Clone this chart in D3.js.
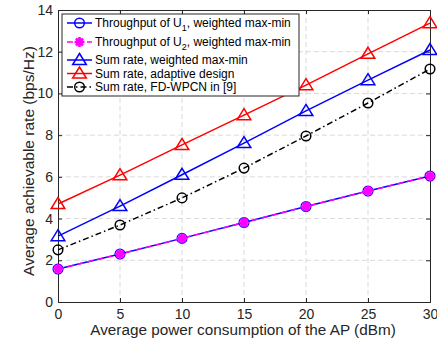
<!DOCTYPE html>
<html>
<head>
<meta charset="utf-8">
<script src="https://cdn.jsdelivr.net/npm/d3@7"></script>
<style>
  html, body { margin: 0; padding: 0; background: #fff; }
  text { font-family: "Liberation Sans", Arial, Helvetica, sans-serif; }
</style>
</head>
<body>
<svg id="chart" width="437" height="341"></svg>
<script>
// Average power consumption of the AP (dBm)
const power = [0, 5, 10, 15, 20, 25, 30];
// Rates in bps/Hz
const throughputU1 = [1.58, 2.30, 3.05, 3.81, 4.58, 5.32, 6.04];
const throughputU2 = [1.58, 2.30, 3.05, 3.81, 4.58, 5.32, 6.04];
const sumWeighted = [3.16, 4.60, 6.10, 7.62, 9.16, 10.64, 12.08];
const sumAdaptive = [4.70, 6.08, 7.53, 8.96, 10.40, 11.90, 13.37];
const sumFD = [2.50, 3.69, 4.99, 6.42, 7.96, 9.54, 11.17];

const xTicks = [0, 5, 10, 15, 20, 25, 30];
const yTicks = [0, 2, 4, 6, 8, 10, 12, 14];

const svg = d3.select("#chart");
const mLeft = 58, mRight = 430, mTop = 10, mBottom = 302;

const x = d3.scaleLinear().domain([0, 30]).range([mLeft, mRight]);
const y = d3.scaleLinear().domain([0, 14]).range([mBottom, mTop]);

// grid
const grid = svg.append("g").attr("stroke", "#d9d9d9").attr("stroke-width", 1)
  .attr("stroke-dasharray", "5,3");
xTicks.slice(1, -1).forEach(t => {
  grid.append("line").attr("x1", x(t)).attr("x2", x(t)).attr("y1", mTop).attr("y2", mBottom);
});
yTicks.slice(1, -1).forEach(t => {
  grid.append("line").attr("x1", mLeft).attr("x2", mRight).attr("y1", y(t)).attr("y2", y(t));
});

// axes (box with inward ticks)
const axisFont = 14;
const xAxis = d3.axisBottom(x).tickValues(xTicks).tickSize(-4).tickPadding(7);
const yAxis = d3.axisLeft(y).tickValues(yTicks).tickSize(-4).tickPadding(5);
svg.append("g").attr("transform", `translate(0,${mBottom})`).call(xAxis);
svg.append("g").attr("transform", `translate(${mLeft},0)`).call(yAxis);
svg.append("g").attr("transform", `translate(0,${mTop})`)
  .call(d3.axisTop(x).tickValues(xTicks).tickSize(-4).tickFormat(""));
svg.append("g").attr("transform", `translate(${mRight},0)`)
  .call(d3.axisRight(y).tickValues(yTicks).tickSize(-4).tickFormat(""));
svg.selectAll(".domain").attr("stroke", "#262626");
svg.selectAll(".tick line").attr("stroke", "#262626");
svg.selectAll(".tick text").attr("fill", "#262626").style("font-size", axisFont + "px")
  .style("font-family", "'Liberation Sans', Arial, sans-serif");

svg.append("text").attr("x", 243).attr("y", 335)
  .attr("text-anchor", "middle").attr("fill", "#262626").style("font-size", "15.3px")
  .text("Average power consumption of the AP (dBm)");
svg.append("text").attr("transform", `translate(34,161) rotate(-90)`)
  .attr("text-anchor", "middle").attr("fill", "#262626").style("font-size", "15.5px")
  .text("Average achievable rate (bps/Hz)");

// marker helpers
function circle(g, cx, cy, color) {
  g.append("circle").attr("cx", cx).attr("cy", cy).attr("r", 4.8)
    .attr("fill", "none").attr("stroke", color).attr("stroke-width", 1.5);
}
function triangle(g, cx, cy, color) {
  const s = 6.5;
  g.append("path")
    .attr("d", `M${cx},${cy - s} L${cx + s * 1.05},${cy + s * 0.7} L${cx - s * 1.05},${cy + s * 0.7} Z`)
    .attr("fill", "none").attr("stroke", color).attr("stroke-width", 1.5);
}
function asterisk(g, cx, cy, color) {
  const r = 5;
  const p = [];
  for (let k = 0; k < 4; k++) {
    const a = k * Math.PI / 4;
    p.push(`M${cx - r * Math.cos(a)},${cy - r * Math.sin(a)} L${cx + r * Math.cos(a)},${cy + r * Math.sin(a)}`);
  }
  g.append("path").attr("d", p.join(" ")).attr("stroke", color).attr("stroke-width", 2.6)
    .attr("fill", "none");
}

const series = [
  { label: "Throughput of U", sub: "1", tail: ", weighted max-min", values: throughputU1, color: "#0000ff", dash: null, marker: circle },
  { label: "Throughput of U", sub: "2", tail: ", weighted max-min", values: throughputU2, color: "#ff00ff", dash: "6,4", marker: asterisk },
  { label: "Sum rate, weighted max-min", values: sumWeighted, color: "#0000ff", dash: null, marker: triangle },
  { label: "Sum rate, adaptive design", values: sumAdaptive, color: "#ff0000", dash: null, marker: triangle },
  { label: "Sum rate, FD-WPCN in [9]", values: sumFD, color: "#000000", dash: "6,3,1.5,3", marker: circle }
];

const line = d3.line().x((d, i) => x(power[i])).y(d => y(d));
const plot = svg.append("g");
series.forEach(s => {
  plot.append("path").attr("d", line(s.values)).attr("fill", "none")
    .attr("stroke", s.color).attr("stroke-width", 1.5)
    .attr("stroke-dasharray", s.dash);
  s.values.forEach((v, i) => s.marker(plot, x(power[i]), y(v), s.color));
});

// legend
const lg = svg.append("g");
lg.append("rect").attr("x", 62).attr("y", 14).attr("width", 237).attr("height", 82)
  .attr("fill", "#fff").attr("stroke", "#262626").attr("stroke-width", 1);
const rowsY = [23, 42, 60, 73.5, 87];
series.forEach((s, i) => {
  const cy = rowsY[i];
  lg.append("line").attr("x1", 67).attr("x2", 92).attr("y1", cy).attr("y2", cy)
    .attr("stroke", s.color).attr("stroke-width", 1.5).attr("stroke-dasharray", s.dash);
  s.marker(lg, 79.5, cy, s.color);
  const t = lg.append("text").attr("x", 95).attr("y", cy + 4).attr("fill", "#000")
    .style("font-size", "12px");
  if (s.sub) {
    t.append("tspan").text(s.label);
    t.append("tspan").attr("dy", 4).style("font-size", "9px").text(s.sub);
    t.append("tspan").attr("dy", -4).text(s.tail);
  } else {
    t.text(s.label);
  }
});
</script>
</body>
</html>
